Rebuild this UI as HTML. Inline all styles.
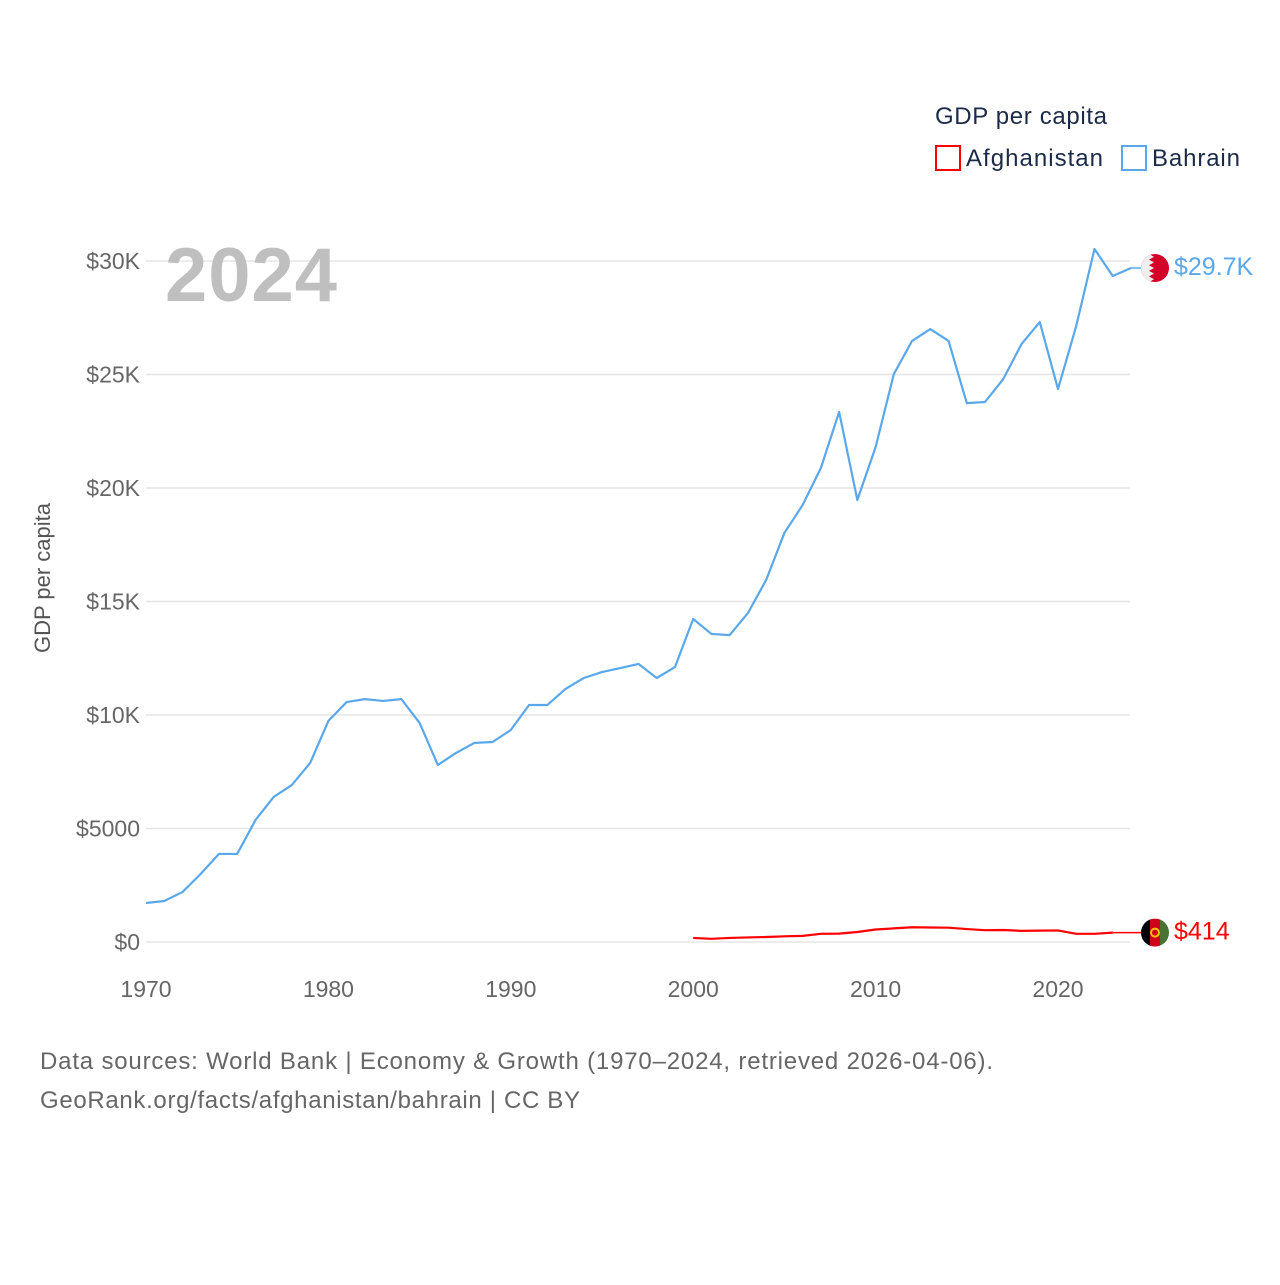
<!DOCTYPE html>
<html><head><meta charset="utf-8"><style>
body{margin:0;background:#fff;width:1280px;height:1280px;overflow:hidden;font-family:"Liberation Sans",sans-serif}
svg text{font-family:"Liberation Sans",sans-serif}
</style></head><body>
<svg id="chart" width="1280" height="1280" xmlns="http://www.w3.org/2000/svg">
<g id="grid"></g>
<g id="yticks"></g>
<g id="xticks"></g>
<text x="165" y="301" font-size="76" font-weight="bold" fill="#bfbfbf" textLength="172">2024</text>
<text transform="translate(50,578) rotate(-90)" text-anchor="middle" font-size="22" fill="#555">GDP per capita</text>
<g id="series"></g>
<g>
<text x="935" y="124" font-size="24" fill="#1b2a48" textLength="172">GDP per capita</text>
<rect x="936" y="146" width="24" height="24" fill="none" stroke="#ff0000" stroke-width="2"/>
<text x="966" y="166" font-size="24" fill="#1b2a48" textLength="137">Afghanistan</text>
<rect x="1122" y="146" width="24" height="24" fill="none" stroke="#5aa8ea" stroke-width="2"/>
<text x="1152" y="166" font-size="24" fill="#1b2a48" textLength="88">Bahrain</text>
</g>
<text x="40" y="1069" font-size="24" fill="#666" textLength="953">Data sources: World Bank | Economy &amp; Growth (1970–2024, retrieved 2026-04-06).</text>
<text x="40" y="1108" font-size="24" fill="#666" textLength="540">GeoRank.org/facts/afghanistan/bahrain | CC BY</text>
</svg>
<script>
const bahrainYears=[1970,1971,1972,1973,1974,1975,1976,1977,1978,1979,1980,1981,1982,1983,1984,1985,1986,1987,1988,1989,1990,1991,1992,1993,1994,1995,1996,1997,1998,1999,2000,2001,2002,2003,2004,2005,2006,2007,2008,2009,2010,2011,2012,2013,2014,2015,2016,2017,2018,2019,2020,2021,2022,2023,2024];
const bahrainValues=[1718,1806,2200,3000,3880,3880,5370,6390,6920,7890,9740,10570,10700,10620,10700,9650,7800,8330,8770,8810,9340,10440,10440,11150,11630,11890,12070,12250,11630,12110,14230,13570,13520,14490,15950,18020,19250,20880,23350,19470,21800,25020,26480,27000,26480,23740,23790,24800,26340,27310,24360,27140,30530,29340,29690];
const afgYears=[2000,2001,2002,2003,2004,2005,2006,2007,2008,2009,2010,2011,2012,2013,2014,2015,2016,2017,2018,2019,2020,2021,2022,2023];
const afgValues=[180,140,180,200,220,250,270,360,370,440,550,600,650,640,630,570,520,530,490,500,510,360,360,414];
const yTicks=[0,5000,10000,15000,20000,25000,30000];
const yTickLabels=["$0","$5000","$10K","$15K","$20K","$25K","$30K"];
const xTicks=[1970,1980,1990,2000,2010,2020];
const NS="http://www.w3.org/2000/svg";
const x=yr=>146+(yr-1970)*(1058-146)/50;
const y=v=>942-v*(942-261)/30000;
function mk(tag,attrs,parent){const e=document.createElementNS(NS,tag);for(const k in attrs)e.setAttribute(k,attrs[k]);parent.appendChild(e);return e;}
const grid=document.getElementById('grid'),yt=document.getElementById('yticks'),xt=document.getElementById('xticks'),ser=document.getElementById('series');
yTicks.forEach((v,i)=>{
 const l=mk('line',{x1:146,x2:1130,y1:y(v),y2:y(v),stroke:'#e6e6e6','stroke-width':1.5},grid);
 
 
 const t=mk('text',{x:140,y:y(v)+8,'text-anchor':'end','font-size':23,fill:'#666'},yt);
 t.textContent=yTickLabels[i];
 
 
});
xTicks.forEach(yr=>{
 const t=mk('text',{x:x(yr),y:997,'text-anchor':'middle','font-size':23,fill:'#666'},xt);
 t.textContent=yr;
 
 
});
function series(years,vals,color,name,label,flag){
 const pts=years.map((yr,i)=>x(yr)+','+y(vals[i])).join(' ');
 const p=mk('polyline',{points:pts,fill:'none',stroke:color,'stroke-width':2.2,'stroke-linejoin':'round'},ser);
 
 
 const lv=vals[vals.length-1],ly=y(lv);
 const c=mk('line',{x1:x(years[years.length-1]),x2:1142,y1:ly,y2:ly,stroke:color,'stroke-width':1.5},ser);
 
 
 const g=mk('g',{},ser);
 
 
 flag(g,1155,ly);
 const t=mk('text',{x:1174,y:ly+7,'font-size':25,fill:color},ser);
 t.textContent=label;
 
 
}
function bahFlag(g,cx,cy){
 const cp=mk('clipPath',{id:'cb'},g);mk('circle',{cx:cx,cy:cy,r:14},cp);
 const gg=mk('g',{'clip-path':'url(#cb)'},g);
 mk('rect',{x:cx-14,y:cy-14,width:28,height:28,fill:'#d40228'},gg);
 let d='M'+(cx-14)+','+(cy-14)+' L'+(cx-6)+','+(cy-14);
 for(let i=0;i<5;i++){const yy=cy-14+i*5.6;d+=' L'+(cx-1)+','+(yy+2.8)+' L'+(cx-6)+','+(yy+5.6);}
 d+=' L'+(cx-14)+','+(cy+14)+'Z';
 mk('path',{d:d,fill:'#eee'},gg);
}
function afgFlag(g,cx,cy){
 const cp=mk('clipPath',{id:'ca'},g);mk('circle',{cx:cx,cy:cy,r:14},cp);
 const gg=mk('g',{'clip-path':'url(#ca)'},g);
 mk('rect',{x:cx-14,y:cy-14,width:10,height:28,fill:'#000'},gg);
 mk('rect',{x:cx-5,y:cy-14,width:10,height:28,fill:'#d0021b'},gg);
 mk('rect',{x:cx+5,y:cy-14,width:10,height:28,fill:'#4a7232'},gg);
 mk('circle',{cx:cx,cy:cy,r:4,fill:'none',stroke:'#f5c400','stroke-width':2},gg);
}
series(bahrainYears,bahrainValues,'#5aa8ea','bahrain','$29.7K',bahFlag);
series(afgYears,afgValues,'#ff0000','afghanistan','$414',afgFlag);
</script>
</body></html>
